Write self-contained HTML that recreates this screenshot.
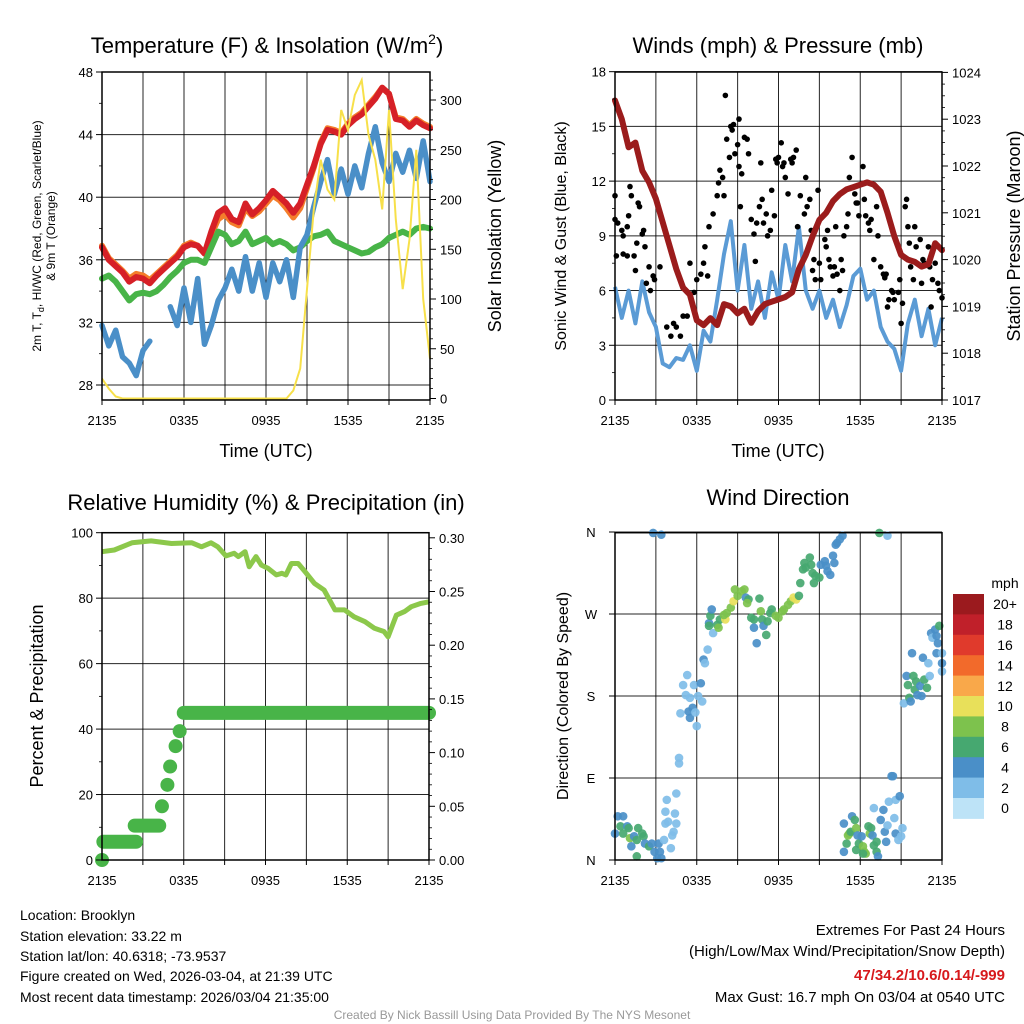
<!DOCTYPE html>
<html><head><meta charset="utf-8"><style>
html,body{margin:0;padding:0;background:#fff;}
svg{display:block;font-family:"Liberation Sans",Arial,sans-serif;}
</style></head><body>
<svg id="chart" width="1024" height="1024" viewBox="0 0 1024 1024" xmlns="http://www.w3.org/2000/svg">
<rect width="1024" height="1024" fill="#fff"/>
<g id="g1"></g>
<g id="g2"></g>
<g id="g3"></g>
<g id="g4"></g>
<text x="267" y="53" font-size="22" text-anchor="middle">Temperature (F) &amp; Insolation (W/m<tspan dy="-9" font-size="14">2</tspan><tspan dy="9">)</tspan></text>
<text x="778" y="53" font-size="22" text-anchor="middle">Winds (mph) &amp; Pressure (mb)</text>
<text x="266" y="510" font-size="22" text-anchor="middle">Relative Humidity (%) &amp; Precipitation (in)</text>
<text x="778" y="505" font-size="22" text-anchor="middle">Wind Direction</text>
<text x="266" y="457" font-size="18" text-anchor="middle">Time (UTC)</text>
<text x="778" y="457" font-size="18" text-anchor="middle">Time (UTC)</text>
<text transform="translate(41,236) rotate(-90)" font-size="12" text-anchor="middle">2m T, T<tspan dy="3" font-size="9">d</tspan><tspan dy="-3">, HI/WC (Red, Green, Scarlet/Blue)</tspan></text>
<text transform="translate(55,236) rotate(-90)" font-size="12" text-anchor="middle">&amp; 9m T (Orange)</text>
<text transform="translate(501,236) rotate(-90)" font-size="18" text-anchor="middle">Solar Insolation (Yellow)</text>
<text transform="translate(566,236) rotate(-90)" font-size="16" text-anchor="middle">Sonic Wind &amp; Gust (Blue, Black)</text>
<text transform="translate(1020,236) rotate(-90)" font-size="18" text-anchor="middle">Station Pressure (Maroon)</text>
<text transform="translate(43,696) rotate(-90)" font-size="18" text-anchor="middle">Percent &amp; Precipitation</text>
<text transform="translate(568,696) rotate(-90)" font-size="16" text-anchor="middle">Direction (Colored By Speed)</text>
<g font-size="14">
<text x="20" y="920">Location: Brooklyn</text>
<text x="20" y="941">Station elevation: 33.22 m</text>
<text x="20" y="961">Station lat/lon: 40.6318; -73.9537</text>
<text x="20" y="981">Figure created on Wed, 2026-03-04, at 21:39 UTC</text>
<text x="20" y="1002">Most recent data timestamp: 2026/03/04 21:35:00</text>
</g>
<g font-size="15" text-anchor="end">
<text x="1005" y="935">Extremes For Past 24 Hours</text>
<text x="1005" y="956">(High/Low/Max Wind/Precipitation/Snow Depth)</text>
<text x="1005" y="980" fill="#d7191c" font-weight="bold">47/34.2/10.6/0.14/-999</text>
<text x="1005" y="1002">Max Gust: 16.7 mph On 03/04 at 0540 UTC</text>
</g>
<text x="512" y="1019" font-size="12" fill="#999" text-anchor="middle">Created By Nick Bassill Using Data Provided By The NYS Mesonet</text>
</svg>
<script>
// ---- data (hours since 2135 UTC) ----
const tempHours = [0,0.5,1,1.5,2,2.5,3,3.5,4,4.5,5,5.5,6,6.5,7,7.5,8,8.5,9,9.5,10,10.5,11,11.5,12,12.5,13,13.5,14,14.5,15,15.5,16,16.5,17,17.5,18,18.5,19,19.5,20,20.5,21,21.5,22,22.5,23,23.5,24];
const tempRed = [36.8,36.0,35.6,35.2,34.6,34.9,34.8,34.5,35.0,35.4,35.8,36.2,36.8,37.0,36.9,36.4,37.8,39.0,39.3,38.6,38.4,39.6,38.9,39.3,39.8,40.4,40.0,39.6,39.0,39.6,40.8,42.0,43.4,44.3,44.2,44.0,44.6,45.0,45.3,45.8,46.3,47.0,46.6,45.0,44.9,44.5,44.9,44.6,44.4];
const tempOrange = [36.9,36.1,35.7,35.3,34.8,35.1,35.0,34.7,35.1,35.5,35.9,36.3,36.9,37.1,36.9,36.4,37.6,38.6,38.9,38.4,38.2,39.3,38.8,39.1,39.6,40.1,39.8,39.3,38.7,39.3,40.6,41.9,43.5,44.4,44.3,44.1,44.7,45.1,45.4,45.9,46.4,47.0,46.6,45.1,45.0,44.6,45.0,44.7,44.5];
const tempGreen = [34.8,35.0,34.6,34.0,33.4,33.8,33.9,33.8,34.0,34.4,34.9,35.3,35.8,36.0,36.0,35.8,36.8,37.8,37.6,37.0,37.2,37.8,37.0,37.2,37.4,37.0,37.2,37.0,36.6,36.8,37.2,37.5,37.6,37.8,37.2,37.0,36.8,36.6,36.4,36.5,36.8,37.0,37.4,37.6,37.8,37.6,38.0,38.1,38.0];
const tempBlue = [31.8,30.5,31.5,29.8,29.4,28.6,30.2,30.8,null,null,33.0,31.8,34.2,32.0,34.8,30.6,31.8,33.4,34.2,35.4,34.0,36.2,34.0,35.8,33.6,35.8,34.6,36.0,33.6,36.8,37.6,39.4,41.0,42.4,40.2,41.8,40.2,42.0,40.6,42.8,44.5,42.2,41.0,42.8,41.6,43.0,41.2,43.6,41.0];
const solar = [20,10,2,0,0,0,0,0,0,0,0,0,0,0,0,0,0,0,0,0,0,0,0,0,0,0,0,0,8,30,110,190,240,210,200,290,270,305,320,265,240,190,290,180,110,160,250,100,40];
const pressure = [1023.4,1023.0,1022.4,1022.5,1021.9,1021.65,1021.3,1020.8,1020.3,1019.8,1019.4,1019.25,1018.7,1018.6,1018.75,1018.6,1019.05,1019.0,1018.85,1018.95,1018.65,1018.9,1019.05,1019.1,1019.15,1019.2,1019.3,1019.8,1020.1,1020.5,1020.85,1021.0,1021.25,1021.4,1021.5,1021.55,1021.6,1021.65,1021.6,1021.45,1021.0,1020.5,1020.1,1020.0,1019.95,1019.85,1019.9,1020.35,1020.2];
const wind = [6.2,4.5,6.0,4.2,6.5,4.8,4.0,2.0,1.8,2.3,2.2,3.0,1.6,3.8,3.2,5.5,8.0,9.8,6.0,8.5,5.0,6.5,4.5,7.0,5.5,8.5,6.5,9.5,6.0,5.0,6.0,4.5,5.5,4.0,5.2,6.8,7.2,5.5,6.0,4.0,3.2,2.8,1.6,4.2,5.5,3.5,5.0,3.0,4.5];
const gustHours = [0.0,0.0,0.1,0.2,0.5,0.6,0.6,0.9,0.9,1.0,1.1,1.2,1.4,1.5,1.6,1.7,1.8,2.0,2.1,2.2,2.3,2.5,2.6,2.8,2.9,3.3,3.8,4.1,4.3,4.5,4.8,5.0,5.3,5.5,5.8,6.0,6.3,6.5,6.6,6.8,6.9,7.2,7.5,7.6,7.7,7.9,8.0,8.1,8.2,8.4,8.5,8.6,8.7,8.8,9.0,9.1,9.1,9.2,9.3,9.5,9.7,9.8,10.0,10.2,10.3,10.4,10.6,10.7,10.8,10.9,11.1,11.2,11.4,11.5,11.7,11.8,11.9,12.0,12.2,12.3,12.4,12.5,12.7,12.9,13.0,13.1,13.3,13.4,13.6,13.9,14.0,14.1,14.3,14.4,14.5,14.6,14.7,14.9,15.0,15.1,15.4,15.5,15.6,15.7,15.8,16.0,16.1,16.2,16.3,16.5,16.6,16.7,16.8,17.0,17.1,17.2,17.4,17.6,17.7,17.8,17.9,18.2,18.3,18.4,18.6,18.7,18.8,19.0,19.2,19.3,19.5,19.7,19.8,19.9,20.0,20.1,20.3,20.4,20.5,20.8,20.9,21.0,21.1,21.3,21.4,21.5,21.6,21.7,21.9,22.0,22.1,22.4,22.5,22.6,22.7,23.0,23.1,23.2,23.3,23.5,23.7,23.8,24.0];
const gustVals = [9.9,11.2,7.9,9.7,9.3,9.0,8.0,9.5,7.9,10.1,11.7,11.2,7.9,7.1,8.6,10.8,10.6,9.1,9.3,8.4,6.4,7.3,6.0,6.8,6.6,7.3,4.0,3.5,4.2,4.0,3.5,4.6,4.6,7.5,5.9,6.6,6.9,7.5,8.4,6.8,9.5,10.2,11.2,11.9,12.6,12.2,11.2,16.7,14.3,13.3,15.0,14.8,15.1,13.5,14.0,15.4,12.8,10.6,12.4,14.4,14.3,13.5,9.9,9.1,7.6,9.7,10.6,13.0,11.0,9.7,10.2,9.0,9.3,11.5,10.1,13.2,13.0,13.3,14.1,12.8,13.0,12.2,11.3,13.2,13.0,13.3,13.7,9.5,11.2,10.2,12.2,10.6,11.0,9.3,7.1,7.7,6.6,11.5,7.5,6.6,8.8,8.4,9.3,7.7,7.3,6.8,7.3,9.5,6.9,6.0,7.7,7.1,9.0,9.5,10.2,12.2,13.3,11.3,10.8,10.8,10.1,12.8,11.0,10.1,9.7,9.3,9.9,7.7,10.6,9.0,7.3,6.9,6.7,6.9,5.1,5.5,6.0,5.9,5.5,5.9,6.6,4.2,5.3,10.6,11.0,9.5,8.6,7.3,6.6,9.5,8.4,8.8,6.4,7.7,7.5,8.4,7.3,5.1,6.6,7.5,6.4,6.0,5.6];
const rhHours = [0,0.9,2.2,3.6,5.1,6.6,7.3,8.0,8.5,9.1,9.7,10.0,10.5,10.8,11.3,11.7,12.2,12.8,13.2,13.5,13.9,14.4,14.9,15.6,16.3,17.1,17.8,18.5,19.3,20.0,20.7,21.0,21.6,22.2,22.7,23.4,24.0];
const rhVals = [94.2,94.7,96.9,97.5,96.7,96.9,95.7,96.9,95.7,92.9,93.7,92.7,94.2,89.6,92.7,90.1,89.1,87.1,87.6,87.1,90.6,90.6,88.1,84.5,82.5,76.4,76.4,74.3,72.8,70.8,69.8,68.2,74.8,75.9,77.4,78.4,78.9];
const precipStart = [0,0.1,2.4,4.4,4.8,5.0,5.4,5.7,6.0];
const precipEnd = [0,2.5,4.2,4.4,4.8,5.0,5.4,5.7,24];
const precipVals = [0,0.017,0.032,0.05,0.07,0.087,0.106,0.12,0.137];
const dirHours = [0.0,0.2,0.6,0.4,0.9,1.0,0.6,1.1,1.2,1.4,1.6,1.7,2.0,2.1,2.2,2.5,2.7,1.6,2.9,3.1,3.2,3.3,3.4,3.6,3.7,3.9,4.2,4.3,4.4,4.5,3.7,3.8,4.1,4.5,2.8,3.4,
4.7,4.7,4.8,5.0,5.3,5.2,5.5,5.4,5.5,5.7,5.8,5.9,6.0,6.1,6.3,6.4,6.5,6.6,6.8,6.9,7.0,7.1,6.9,7.2,7.5,7.6,7.7,8.1,8.0,8.2,8.5,8.7,8.8,9.0,9.3,9.5,9.6,9.8,9.7,10.0,10.2,10.2,10.4,10.6,10.7,10.8,10.9,11.1,11.2,11.4,11.5,11.8,12.0,12.3,12.4,12.7,12.9,13.1,13.3,13.5,13.6,13.8,13.9,14.0,14.3,14.4,14.5,14.6,14.7,15.0,15.1,15.4,15.5,15.6,15.8,16.0,16.1,16.2,16.3,16.5,16.7,19.4,20.0,
16.8,16.8,17.0,17.1,17.2,17.3,17.4,17.6,17.7,17.8,17.7,17.9,18.1,18.2,18.3,18.4,18.2,18.6,18.7,18.8,18.9,19.0,19.2,19.2,19.3,19.0,19.5,19.7,19.8,19.9,20.0,20.1,20.3,20.4,20.5,20.6,20.6,20.8,20.9,21.0,21.1,
21.2,21.4,21.5,21.6,21.7,21.9,21.8,22.0,22.1,22.2,22.4,22.5,22.6,22.7,22.9,23.0,23.1,23.2,23.3,23.5,23.6,23.7,23.6,23.8,24.0,24.0,24.0];
const dirDegs = [29,48,48,37,37,35,29,24,15,26,22,35,29,26,18,15,18,4,9,2,18,9,2,22,40,42,27,31,51,40,53,66,13,73,359,357,
112,106,161,192,203,181,178,163,156,167,192,162,147,180,194,174,220,216,231,260,268,275,257,249,258,255,264,264,269,271,277,284,297,290,295,297,288,286,282,266,264,255,238,287,273,264,257,247,262,271,275,268,266,273,275,280,284,288,286,290,304,319,326,321,332,324,315,304,312,310,324,328,323,317,313,334,326,346,348,352,356,359,356,
40,9,18,27,29,31,48,44,35,27,11,18,26,15,9,7,7,37,29,35,27,16,9,20,4,57,44,55,31,20,38,64,92,92,46,29,66,22,70,26,35,
172,202,192,178,174,202,227,187,196,181,191,180,222,198,189,216,202,249,244,253,246,238,227,257,227,207,216];
const dirSpeeds = [3.5,3.5,3.5,5.5,3.5,5.5,5.5,7.5,3.5,3.5,5.5,5.5,5.5,5.5,3.5,5.5,3.5,5.5,3.5,3.5,3.5,3.5,3.5,1.5,1.5,1.5,1.5,1.5,1.5,1.5,1.5,1.5,1.5,1.5,3.5,3.5,
1.5,1.5,1.5,1.5,1.5,1.5,1.5,3.5,3.5,3.5,1.5,1.5,1.5,1.5,3.5,1.5,3.5,1.5,1.5,3.5,5.5,3.5,5.5,1.5,5.5,7.5,5.5,9.5,7.5,7.5,7.5,9.5,7.5,7.5,7.5,7.5,3.5,5.5,7.5,5.5,5.5,3.5,3.5,5.5,7.5,5.5,3.5,5.5,5.5,5.5,5.5,7.5,7.5,7.5,7.5,7.5,7.5,9.5,9.5,5.5,5.5,5.5,5.5,5.5,5.5,5.5,5.5,5.5,5.5,5.5,3.5,3.5,3.5,3.5,3.5,3.5,3.5,3.5,3.5,3.5,3.5,5.5,1.5,
3.5,3.5,5.5,7.5,7.5,5.5,3.5,5.5,7.5,3.5,5.5,5.5,3.5,7.5,7.5,7.5,5.5,5.5,7.5,5.5,3.5,5.5,5.5,5.5,3.5,1.5,3.5,3.5,3.5,3.5,1.5,1.5,3.5,3.5,1.5,3.5,1.5,1.5,3.5,1.5,1.5,
1.5,3.5,5.5,5.5,3.5,5.5,3.5,5.5,5.5,3.5,3.5,3.5,3.5,5.5,5.5,1.5,1.5,3.5,1.5,3.5,3.5,3.5,3.5,5.5,1.5,1.5,3.5];
const timeLabels = ["2135","0335","0935","1535","2135"];
const timeLabelHours = [0,6,12,18,24];
const tempTicks = [28,32,36,40,44,48];
const solarTicks = [0,50,100,150,200,250,300];
const windTicks = [0,3,6,9,12,15,18];
const pressTicks = [1017,1018,1019,1020,1021,1022,1023,1024];
const rhTicks = [0,20,40,60,80,100];
const precipTicks = [0,0.05,0.1,0.15,0.2,0.25,0.3];
const dirTicks = [0,90,180,270,360];
const dirLabels = ["N","E","S","W","N"];
const speedBins = ["0","2","4","6","8","10","12","14","16","18","20+"];
const speedColors = ["#bde3f7","#7fbde8","#4a8fc8","#46a870","#7dc24d","#e8e05a","#f9a84a","#f26a2b","#e03a2c","#c0202a","#9b1a1e"];

// ---- scales ----
const NS = "http://www.w3.org/2000/svg";
const P1 = {l:102,r:430,t:72,b:400}, P2 = {l:615,r:942,t:72,b:400}, P3 = {l:102,r:429,t:532.7,b:860}, P4 = {l:615,r:942,t:532.7,b:860};
const x1 = h => P1.l + h*(P1.r-P1.l)/24;
const y1 = t => 72 + (48-t)*15.65;
const ys = w => 398.5 - w*0.995;
const x2 = h => P2.l + h*(P2.r-P2.l)/24;
const y2 = v => 400 - v*18.24;
const yp = p => 400 - (p-1017)*46.8;
const x3 = h => P3.l + h*(P3.r-P3.l)/24;
const y3 = r => 860 - r*3.273;
const yr = i => 860 - i*1074;
const yd = d => 860 - d*0.9111;

function mk(tag, attrs, parent){ const e=document.createElementNS(NS,tag); for(const k in attrs) e.setAttribute(k,attrs[k]); parent.appendChild(e); return e; }
function pathFrom(xs, ys_){ let d="", pen=false; for(let i=0;i<xs.length;i++){ if(ys_[i]===null){pen=false;continue;} d += (pen?"L":"M")+xs[i].toFixed(1)+","+ys_[i].toFixed(1); pen=true;} return d; }

function frame(g, P, hx, hTicks){
  // vertical grid every 3h
  for(let h=3;h<24;h+=3){
    const ln = mk("line",{x1:hx(h),x2:hx(h),y1:P.t,y2:P.b,stroke:"#000","stroke-width":1,opacity:0.85},g);
    
    
  }
  for(const yv of hTicks){
    const ln = mk("line",{x1:P.l,x2:P.r,y1:yv,y2:yv,stroke:"#000","stroke-width":1,opacity:0.85},g);
    
    
  }
  for(let h=0;h<=24;h+=3){
    const tk = mk("line",{x1:hx(h),x2:hx(h),y1:P.b,y2:P.b+5,stroke:"#000","stroke-width":1},g);
    
    
  }
  for(let i=0;i<timeLabels.length;i++){
    const t = mk("text",{x:hx(timeLabelHours[i]),y:P.b+25,"font-size":13,"text-anchor":"middle"},g);
    t.textContent = timeLabels[i];
    
    
  }
}
function border(g,P){
  const r = mk("rect",{x:P.l,y:P.t,width:P.r-P.l,height:P.b-P.t,fill:"none",stroke:"#000","stroke-width":1.5},g);
  
  
}
function yTicks(g, vals, fy, x, side, fmt, minorVals){
  for(const v of vals){
    const tk = mk("line",{x1:x,x2:x+(side==="left"?-6:6),y1:fy(v),y2:fy(v),stroke:"#000","stroke-width":1},g);
    
    
    const t = mk("text",{x:x+(side==="left"?-9:10),y:fy(v)+5,"font-size":13,"text-anchor":side==="left"?"end":"start"},g);
    t.textContent = fmt(v);
    
    
  }
  for(const v of (minorVals||[])){
    const tk = mk("line",{x1:x,x2:x+(side==="left"?-3:3),y1:fy(v),y2:fy(v),stroke:"#000","stroke-width":0.8},g);
    
    
  }
}

// ---- Panel 1 ----
const g1 = document.getElementById("g1");
frame(g1, P1, x1, tempTicks.map(y1));
const s1 = [[tempOrange,"#f47d2b","orange-9m-temp-line",6],[tempRed,"#d62027","red-2m-temp-line",6],[tempGreen,"#48b448","green-dewpoint-line",6],[tempBlue,"#4a8fc8","blue-windchill-line",5.5]];
for(const [arr,col,nm,w] of s1){
  const p = mk("path",{d:pathFrom(tempHours.map(x1), arr.map(v=>v===null?null:y1(v))),fill:"none",stroke:col,"stroke-width":w,"stroke-linejoin":"round","stroke-linecap":"round"},g1);
  
  
}
const solarLine = mk("path",{d:pathFrom(tempHours.map(x1), solar.map(ys)),fill:"none",stroke:"#f7e04a","stroke-width":2},g1);


yTicks(g1, tempTicks, y1, P1.l, "left", v=>v, [30,34,38,42,46]);
yTicks(g1, solarTicks, ys, P1.r, "right", v=>v, [10,20,30,40,60,70,80,90,110,120,130,140,160,170,180,190,210,220,230,240,260,270,280,290,310,320]);
border(g1,P1);

// ---- Panel 2 ----
const g2 = document.getElementById("g2");
frame(g2, P2, x2, windTicks.map(y2));
const wl = mk("path",{d:pathFrom(tempHours.map(x2), wind.map(y2)),fill:"none",stroke:"#5b9bd5","stroke-width":4,"stroke-linejoin":"round"},g2);


for(let i=0;i<gustHours.length;i++){
  const c = mk("circle",{cx:x2(gustHours[i]),cy:y2(gustVals[i]),r:2.8,fill:"#000"},g2);
  
  
}
const pl = mk("path",{d:pathFrom(tempHours.map(x2), pressure.map(yp)),fill:"none",stroke:"#9b1c1c","stroke-width":6,"stroke-linejoin":"round","stroke-linecap":"round"},g2);


yTicks(g2, windTicks, y2, P2.l, "left", v=>v, [1.5,4.5,7.5,10.5,13.5,16.5]);
yTicks(g2, pressTicks, yp, P2.r, "right", v=>v, [1017.25,1017.5,1017.75,1018.25,1018.5,1018.75,1019.25,1019.5,1019.75,1020.25,1020.5,1020.75,1021.25,1021.5,1021.75,1022.25,1022.5,1022.75,1023.25,1023.5,1023.75]);
border(g2,P2);

// ---- Panel 3 ----
const g3 = document.getElementById("g3");
frame(g3, P3, x3, rhTicks.map(y3));
const rl = mk("path",{d:pathFrom(rhHours.map(x3), rhVals.map(y3)),fill:"none",stroke:"#8cc84b","stroke-width":5,"stroke-linejoin":"round"},g3);


for(let i=0;i<precipVals.length;i++){
  const pe = mk("line",{x1:x3(precipStart[i]),x2:x3(precipEnd[i]),y1:yr(precipVals[i]),y2:yr(precipVals[i]),stroke:"#48b448","stroke-width":14,"stroke-linecap":"round"},g3);
  
  
}
yTicks(g3, rhTicks, y3, P3.l, "left", v=>v, [10,30,50,70,90]);
yTicks(g3, precipTicks, yr, P3.r, "right", v=>v.toFixed(2), [0.01,0.02,0.03,0.04,0.06,0.07,0.08,0.09,0.11,0.12,0.13,0.14,0.16,0.17,0.18,0.19,0.21,0.22,0.23,0.24,0.26,0.27,0.28,0.29]);
border(g3,P3);

// ---- Panel 4 ----
const g4 = document.getElementById("g4");
frame(g4, P4, x2, dirTicks.map(yd));
for(let i=0;i<dirHours.length;i++){
  const idx = Math.min(10, Math.round(dirSpeeds[i]/2));
  const c = mk("circle",{cx:x2(dirHours[i]),cy:yd(dirDegs[i]),r:4.3,fill:speedColors[idx],opacity:0.92},g4);
  
  
}
for(let i=0;i<dirTicks.length;i++){
  const tk = mk("line",{x1:P4.l,x2:P4.l-6,y1:yd(dirTicks[i]),y2:yd(dirTicks[i]),stroke:"#000"},g4);
  
  
  const t = mk("text",{x:591,y:yd(dirTicks[i])+5,"font-size":13,"text-anchor":"middle"},g4);
  t.textContent = dirLabels[i];
  
  
}
border(g4,P4);
// colorbar
const cbTop = 594, cbH = 20.4;
const unit = mk("text",{x:1005,y:588,"font-size":14,"text-anchor":"middle"},g4);
unit.textContent = "mph";


for(let i=0;i<speedBins.length;i++){
  const k = speedBins.length-1-i;
  const r = mk("rect",{x:953,y:cbTop+i*cbH,width:31,height:cbH+0.5,fill:speedColors[k]},g4);
  
  
  const t = mk("text",{x:1005,y:cbTop+i*cbH+cbH/2+5,"font-size":14,"text-anchor":"middle"},g4);
  t.textContent = speedBins[k];
  
  
}
</script>
</body></html>
